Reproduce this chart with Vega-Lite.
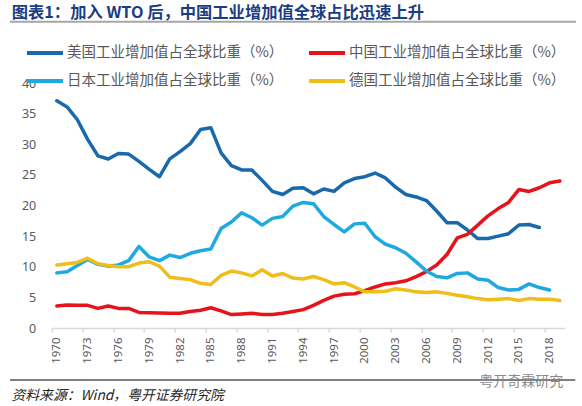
{
  "$schema": "https://vega.github.io/schema/vega-lite/v6.json",
  "width": 513.3,
  "height": 245,
  "autosize": {"type": "none"},
  "padding": {"left": 51.7, "top": 83, "right": 17, "bottom": 78},
  "background": "white",
  "config": {
    "view": {"stroke": null},
    "axisX": {
      "tickOffset": -5.13, "labelOffset": 5.13,
      "labelAngle": 270, "labelFlush": false, "labelOverlap": false, "labelBound": false,
      "labelFont": "Noto Sans", "labelFontSize": 11.5, "labelColor": "#595959", "labelPadding": 5,
      "domainColor": "#D9D9D9", "domainWidth": 1.5,
      "tickColor": "#D9D9D9", "tickWidth": 1.5, "tickSize": 4,
      "grid": false
    },
    "axisY": {
      "ticks": false, "domain": false, "grid": false,
      "labelPadding": 16, "labelFont": "Noto Sans", "labelFontSize": 12.5, "labelColor": "#595959"
    }
  },
  "title": {
    "text": "图表1：加入 WTO 后，中国工业增加值全球占比迅速上升",
    "anchor": "start",
    "frame": "group",
    "dx": -40,
    "dy": 2,
    "offset": 1,
    "font": "Noto Sans CJK SC",
    "fontSize": 16.3,
    "fontWeight": "bold",
    "color": "#1B3D82"
  },
  "data": {
    "values": [
      {"year": 1970, "us": 37.1, "cn": 3.6, "jp": 9.0, "de": 10.3},
      {"year": 1971, "us": 36.1, "cn": 3.75, "jp": 9.2, "de": 10.5},
      {"year": 1972, "us": 34.0, "cn": 3.7, "jp": 10.2, "de": 10.7},
      {"year": 1973, "us": 30.8, "cn": 3.7, "jp": 11.2, "de": 11.4},
      {"year": 1974, "us": 28.1, "cn": 3.2, "jp": 10.4, "de": 10.5},
      {"year": 1975, "us": 27.6, "cn": 3.6, "jp": 10.1, "de": 10.2},
      {"year": 1976, "us": 28.5, "cn": 3.2, "jp": 10.3, "de": 10.0},
      {"year": 1977, "us": 28.4, "cn": 3.2, "jp": 11.0, "de": 10.0},
      {"year": 1978, "us": 27.2, "cn": 2.55, "jp": 13.3, "de": 10.6},
      {"year": 1979, "us": 25.9, "cn": 2.5, "jp": 11.6, "de": 10.8},
      {"year": 1980, "us": 24.7, "cn": 2.45, "jp": 11.0, "de": 10.1},
      {"year": 1981, "us": 27.6, "cn": 2.4, "jp": 11.9, "de": 8.3},
      {"year": 1982, "us": 28.8, "cn": 2.4, "jp": 11.5, "de": 8.1},
      {"year": 1983, "us": 30.1, "cn": 2.7, "jp": 12.2, "de": 7.9},
      {"year": 1984, "us": 32.4, "cn": 2.9, "jp": 12.6, "de": 7.3},
      {"year": 1985, "us": 32.7, "cn": 3.3, "jp": 12.9, "de": 7.1},
      {"year": 1986, "us": 28.6, "cn": 2.8, "jp": 16.25, "de": 8.6},
      {"year": 1987, "us": 26.5, "cn": 2.2, "jp": 17.3, "de": 9.3},
      {"year": 1988, "us": 25.8, "cn": 2.3, "jp": 18.8, "de": 9.0},
      {"year": 1989, "us": 25.8, "cn": 2.4, "jp": 18.0, "de": 8.5},
      {"year": 1990, "us": 24.1, "cn": 2.2, "jp": 16.8, "de": 9.5},
      {"year": 1991, "us": 22.3, "cn": 2.2, "jp": 17.9, "de": 8.5},
      {"year": 1992, "us": 21.8, "cn": 2.4, "jp": 18.2, "de": 8.9},
      {"year": 1993, "us": 22.8, "cn": 2.7, "jp": 19.9, "de": 8.15},
      {"year": 1994, "us": 22.9, "cn": 3.0, "jp": 20.5, "de": 8.0},
      {"year": 1995, "us": 21.9, "cn": 3.7, "jp": 20.3, "de": 8.4},
      {"year": 1996, "us": 22.7, "cn": 4.5, "jp": 18.2, "de": 7.9},
      {"year": 1997, "us": 22.3, "cn": 5.2, "jp": 16.9, "de": 7.2},
      {"year": 1998, "us": 23.7, "cn": 5.5, "jp": 15.7, "de": 7.4},
      {"year": 1999, "us": 24.4, "cn": 5.6, "jp": 17.0, "de": 6.7},
      {"year": 2000, "us": 24.7, "cn": 6.1, "jp": 17.1, "de": 5.9},
      {"year": 2001, "us": 25.3, "cn": 6.7, "jp": 14.9, "de": 5.9},
      {"year": 2002, "us": 24.5, "cn": 7.2, "jp": 13.7, "de": 6.0},
      {"year": 2003, "us": 23.0, "cn": 7.4, "jp": 13.1, "de": 6.4},
      {"year": 2004, "us": 21.8, "cn": 7.7, "jp": 12.2, "de": 6.2},
      {"year": 2005, "us": 21.4, "cn": 8.4, "jp": 10.8, "de": 5.9},
      {"year": 2006, "us": 20.8, "cn": 9.2, "jp": 9.3, "de": 5.8},
      {"year": 2007, "us": 19.1, "cn": 10.3, "jp": 8.4, "de": 5.9},
      {"year": 2008, "us": 17.2, "cn": 12.0, "jp": 8.2, "de": 5.65},
      {"year": 2009, "us": 17.2, "cn": 14.7, "jp": 8.9, "de": 5.35},
      {"year": 2010, "us": 16.0, "cn": 15.3, "jp": 9.0, "de": 5.1},
      {"year": 2011, "us": 14.6, "cn": 16.8, "jp": 8.0, "de": 4.8},
      {"year": 2012, "us": 14.6, "cn": 18.3, "jp": 7.8, "de": 4.6},
      {"year": 2013, "us": 15.0, "cn": 19.5, "jp": 6.6, "de": 4.7},
      {"year": 2014, "us": 15.4, "cn": 20.5, "jp": 6.2, "de": 4.8},
      {"year": 2015, "us": 16.8, "cn": 22.6, "jp": 6.3, "de": 4.5},
      {"year": 2016, "us": 16.9, "cn": 22.3, "jp": 7.2, "de": 4.8},
      {"year": 2017, "us": 16.4, "cn": 22.9, "jp": 6.6, "de": 4.7},
      {"year": 2018, "us": null, "cn": 23.7, "jp": 6.2, "de": 4.7},
      {"year": 2019, "us": null, "cn": 24.0, "jp": null, "de": 4.5}
    ]
  },
  "layer": [
    {
      "data": {"values": [{}]},
      "mark": {"type": "rule", "color": "#A6A6A6", "strokeWidth": 2},
      "encoding": {
        "x": {"datum": 1965.44, "type": "quantitative", "scale": {"domain": [1969.5, 2019.5], "nice": false, "zero": false}},
        "x2": {"datum": 2020.57},
        "y": {"datum": 50, "type": "quantitative", "scale": {"domain": [0, 40], "nice": false}}
      }
    },
    {
      "data": {"values": [{}]},
      "mark": {"type": "rule", "color": "#808080", "strokeWidth": 2},
      "encoding": {
        "x": {"datum": 1965.44, "type": "quantitative", "scale": {"domain": [1969.5, 2019.5], "nice": false, "zero": false}},
        "x2": {"datum": 2020.5},
        "y": {"datum": -8.5, "type": "quantitative", "scale": {"domain": [0, 40], "nice": false}}
      }
    },
    {
      "transform": [
        {"fold": ["us", "cn", "jp", "de"], "as": ["key", "value"]},
        {"filter": "datum.key == 'us' && isValid(datum.value)"}
      ],
      "mark": {"type": "line", "strokeWidth": 3.5, "strokeJoin": "round", "strokeCap": "round"},
      "encoding": {
        "x": {
          "field": "year", "type": "quantitative",
          "scale": {"domain": [1969.5, 2019.5], "nice": false, "zero": false},
          "axis": {
            "title": "资料来源：Wind，粤开证券研究院",
            "titleX": -40.7, "titleY": 67, "titleAlign": "left", "titleBaseline": "middle",
            "titleFont": "Noto Sans CJK SC", "titleFontSize": 13.8, "titleFontStyle": "italic", "titleFontWeight": "normal", "titleColor": "#262626",
            "values": [1970, 1973, 1976, 1979, 1982, 1985, 1988, 1991, 1994, 1997, 2000, 2003, 2006, 2009, 2012, 2015, 2018],
            "tickCount": 60,
            "format": "d",
            "labelOverlap": false
          }
        },
        "y": {
          "field": "value", "type": "quantitative",
          "scale": {"domain": [0, 40], "nice": false},
          "axis": {
            "title": "粤开奇霖研究",
            "titleAngle": 0, "titleX": 469, "titleY": 298, "titleAlign": "center", "titleBaseline": "middle",
            "titleFont": "Noto Sans CJK SC", "titleFontSize": 14, "titleFontWeight": "normal", "titleColor": "#8C8C8C",
            "values": [0, 5, 10, 15, 20, 25, 30, 35, 40],
            "tickCount": 20
          }
        },
        "color": {
          "field": "key", "type": "nominal",
          "scale": {"domain": ["us", "cn", "jp", "de"], "range": ["#1A69AA", "#E6141A", "#1EAAE1", "#F0BE19"]},
          "legend": {
            "orient": "none", "legendX": -26.7, "legendY": -50,
            "direction": "horizontal", "columns": 2, "columnPadding": 17, "rowPadding": -8,
            "title": null,
            "symbolType": "stroke", "symbolSize": 1296, "symbolStrokeWidth": 4,
            "labelFont": "Noto Sans CJK SC", "labelFontSize": 14.5, "labelColor": "#595959", "labelOffset": 2, "labelLimit": 400,
            "labelExpr": "{'us': '美国工业增加值占全球比重（%）', 'cn': '中国工业增加值占全球比重（%）', 'jp': '日本工业增加值占全球比重（%）', 'de': '德国工业增加值占全球比重（%）'}[datum.label]"
          }
        }
      }
    },
    {
      "transform": [
        {"fold": ["us", "cn", "jp", "de"], "as": ["key", "value"]},
        {"filter": "datum.key == 'cn' && isValid(datum.value)"}
      ],
      "mark": {"type": "line", "strokeWidth": 3.5, "strokeJoin": "round", "strokeCap": "round"},
      "encoding": {
        "x": {"field": "year", "type": "quantitative"},
        "y": {"field": "value", "type": "quantitative"},
        "color": {"field": "key", "type": "nominal"}
      }
    },
    {
      "transform": [
        {"fold": ["us", "cn", "jp", "de"], "as": ["key", "value"]},
        {"filter": "datum.key == 'jp' && isValid(datum.value)"}
      ],
      "mark": {"type": "line", "strokeWidth": 3.5, "strokeJoin": "round", "strokeCap": "round"},
      "encoding": {
        "x": {"field": "year", "type": "quantitative"},
        "y": {"field": "value", "type": "quantitative"},
        "color": {"field": "key", "type": "nominal"}
      }
    },
    {
      "transform": [
        {"fold": ["us", "cn", "jp", "de"], "as": ["key", "value"]},
        {"filter": "datum.key == 'de' && isValid(datum.value)"}
      ],
      "mark": {"type": "line", "strokeWidth": 3.5, "strokeJoin": "round", "strokeCap": "round"},
      "encoding": {
        "x": {"field": "year", "type": "quantitative"},
        "y": {"field": "value", "type": "quantitative"},
        "color": {"field": "key", "type": "nominal"}
      }
    }
  ]
}
